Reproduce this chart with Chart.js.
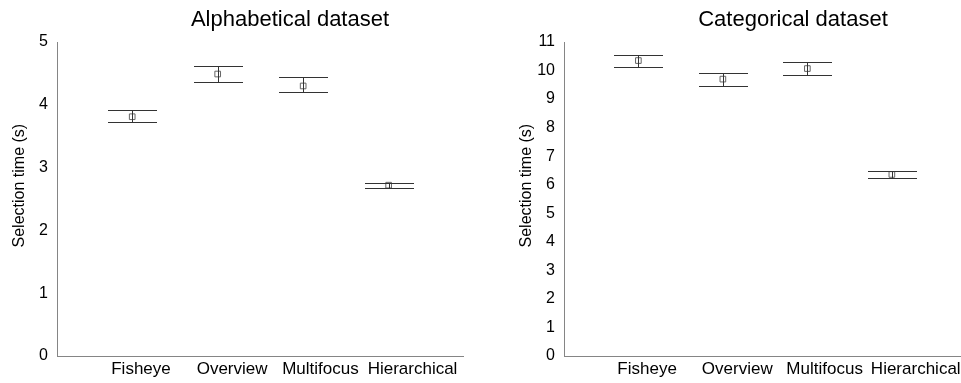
<!DOCTYPE html>
<html>
<head>
<meta charset="utf-8">
<script src="https://cdn.jsdelivr.net/npm/chart.js@4.4.1/dist/chart.umd.min.js"></script>
<style>
  html, body { margin: 0; padding: 0; background: #fff; overflow: hidden; width: 961px; height: 383px; }
  .panel { position: absolute; top: 0; height: 383px; }
  #panelAlpha { left: 0; width: 580px; }
  #panelCateg { left: 507px; width: 572px; }
</style>
</head>
<body>
<div class="panel" id="panelAlpha"><canvas id="alphaChart" width="580" height="383"></canvas></div>
<div class="panel" id="panelCateg"><canvas id="categChart" width="572" height="383"></canvas></div>
<script>
// Techniques compared
const categories = ['Fisheye', 'Overview', 'Multifocus', 'Hierarchical'];

// Alphabetical dataset: mean selection time and interval bounds (s)
const alphaMean = [3.81, 4.49, 4.30, 2.72];
const alphaLow  = [3.72, 4.36, 4.20, 2.67];
const alphaHigh = [3.91, 4.61, 4.44, 2.76];

// Categorical dataset: mean selection time and interval bounds (s)
const categMean = [10.35, 9.70, 10.07, 6.36];
const categLow  = [10.14, 9.46, 9.84, 6.24];
const categHigh = [10.56, 9.93, 10.31, 6.48];

const FONT = '"Liberation Sans", Arial, Helvetica, sans-serif';
const AXIS_GREY = '#858585';

// Draws whiskers (caps + stem) for every point using the chart's own scales
const errorBars = {
  id: 'errorBars',
  afterDatasetsDraw(chart) {
    const { ctx, scales: { x, y } } = chart;
    const half = 24.5;
    ctx.save();
    ctx.strokeStyle = '#333';
    ctx.lineWidth = 1;
    chart.data.datasets[0].data.forEach(p => {
      const cx = Math.round(x.getPixelForValue(p.x)) + 0.5;
      const yl = Math.round(y.getPixelForValue(p.low)) + 0.5;
      const yh = Math.round(y.getPixelForValue(p.high)) + 0.5;
      ctx.beginPath();
      ctx.moveTo(cx - half, yh); ctx.lineTo(cx + half, yh);
      ctx.moveTo(cx - half, yl); ctx.lineTo(cx + half, yl);
      ctx.moveTo(cx, yh); ctx.lineTo(cx, yl);
      ctx.stroke();
    });
    ctx.restore();
  }
};

function makeChart(canvasId, title, mean, low, high, yMax, xMax) {
  const points = categories.map((c, i) => ({ x: i + 1, y: mean[i], low: low[i], high: high[i] }));
  return new Chart(document.getElementById(canvasId), {
    type: 'scatter',
    data: {
      datasets: [{
        data: points,
        pointStyle: 'rect',
        pointRadius: 4,
        pointHoverRadius: 4,
        pointBorderWidth: 1,
        pointBorderColor: '#666',
        pointBackgroundColor: '#fff'
      }]
    },
    options: {
      responsive: false,
      animation: false,
      events: [],
      layout: { padding: 0 },
      plugins: {
        legend: { display: false },
        tooltip: { enabled: false },
        title: {
          display: true,
          text: title,
          color: '#000',
          font: { family: FONT, size: 22, weight: 'normal' },
          padding: { top: 7, bottom: 8.6 }
        }
      },
      scales: {
        x: {
          type: 'linear',
          min: 0.12,
          max: xMax,
          grid: { display: false, drawTicks: false },
          border: { display: true, color: AXIS_GREY, width: 1 },
          afterBuildTicks: axis => { axis.ticks = categories.map((c, i) => ({ value: i + 1 })); },
          afterFit: axis => { axis.height = 27; },
          ticks: {
            autoSkip: false,
            maxRotation: 0,
            align: 'start',
            labelOffset: -21,
            padding: 3,
            color: '#000',
            font: { family: FONT, size: 17 },
            callback: v => categories[v - 1]
          }
        },
        y: {
          min: 0,
          max: yMax,
          grid: { display: false, drawTicks: false },
          border: { display: true, color: AXIS_GREY, width: 1 },
          afterFit: axis => { axis.width = 57; },
          ticks: {
            stepSize: 1,
            padding: 9,
            color: '#000',
            font: { family: FONT, size: 16 }
          },
          title: {
            display: true,
            // leading spaces nudge the rotated label toward the top
            text: '      Selection time (s)',
            color: '#000',
            font: { family: FONT, size: 16 },
            padding: { top: 10, bottom: 0 }
          }
        },
        // empty right-hand gutter so the title centres over the wider panel
        gutter: {
          type: 'linear',
          position: 'right',
          display: true,
          grid: { display: false },
          border: { display: false },
          ticks: { display: false },
          afterFit: axis => { axis.width = 117; }
        }
      }
    },
    plugins: [errorBars]
  });
}

makeChart('alphaChart', 'Alphabetical dataset', alphaMean, alphaLow, alphaHigh, 5, 4.87);
makeChart('categChart', 'Categorical dataset', categMean, categLow, categHigh, 11, 4.83);
</script>
</body>
</html>
